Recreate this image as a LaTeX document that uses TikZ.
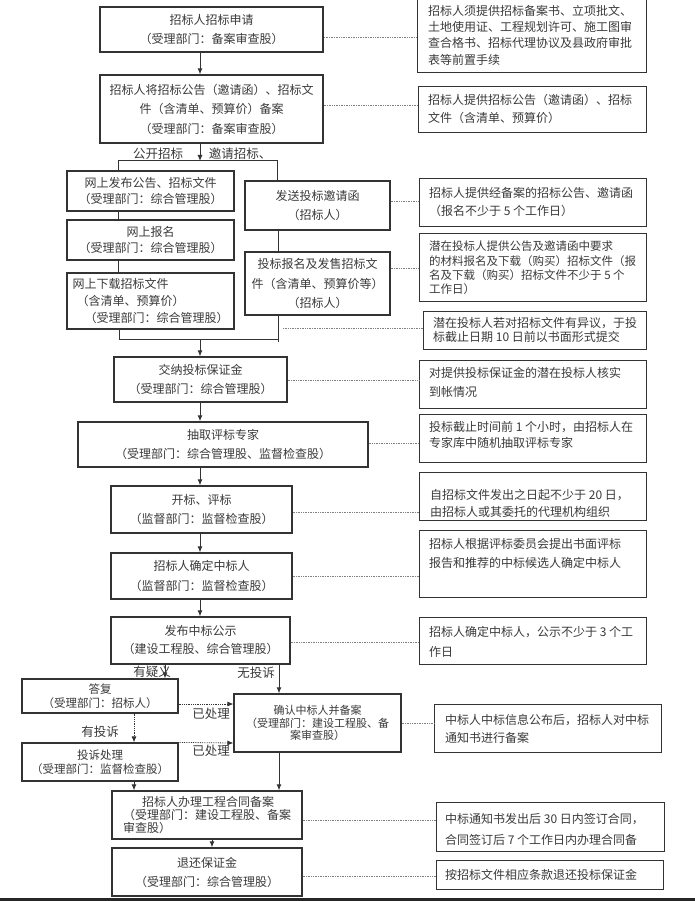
\documentclass[tikz,border=0pt]{standalone}
\usepackage{fontspec}
\setmainfont{Noto Sans CJK SC}
\usetikzlibrary{arrows.meta}
\definecolor{ink}{HTML}{333333}
\definecolor{txt}{HTML}{3A3A3A}
\definecolor{dotc}{HTML}{808080}
\newcommand{\nbox}[5]{\node[notebox, minimum width=#4pt, minimum height=#5pt] (#1) at (#2,#3) {};}
\begin{document}
\begin{tikzpicture}[x=1pt,y=-1pt,
 mainbox/.style={draw=ink, line width=1.2pt, rectangle, inner sep=0pt, align=center, text=txt, font=\fontsize{12}{19.5}\selectfont},
 notebox/.style={draw=ink, line width=1.1pt, rectangle, inner sep=0pt, anchor=north west},
 notetext/.style={anchor=north west, inner sep=0pt, align=left, text=txt},
 lbl/.style={inner sep=0pt, text=txt, font=\fontsize{12.5}{14}\selectfont},
 link/.style={draw=ink, line width=1pt},
 arr/.style={draw=ink, line width=1pt, -{Latex[length=6pt,width=5pt]}},
 dotarr/.style={draw=ink, line width=0.8pt, densely dotted, -{Latex[length=6pt,width=5pt]}},
 dotline/.style={draw=dotc, line width=0.7pt, densely dotted}]
\fill[white] (0,0) rectangle (695,901);
\useasboundingbox (0,0) rectangle (695,901);
\fill[black!85] (0,898) rectangle (695,901);

% column coordinates
\coordinate (c200) at (200,0);
\coordinate (c118) at (118,0);
\coordinate (c119) at (119,0);
\coordinate (c277) at (277,0);
\coordinate (c278) at (278,0);
\coordinate (c165) at (165,0);
\coordinate (c279) at (279,0);
\coordinate (c134) at (134,0);
\coordinate (c212) at (212,0);

% main boxes
\node[mainbox, line width=1.6pt, minimum width=223pt, minimum height=45pt] (B1) at (211.5,29.5) {招标人招标申请\\（受理部门：备案审查股）};
\node[mainbox, minimum width=223pt, minimum height=68pt] (B2) at (211.5,109) {招标人将招标公告（邀请函）、招标文\\件（含清单、预算价）备案\\（受理部门：备案审查股）};
\node[mainbox, font=\fontsize{12}{16}\selectfont, minimum width=167pt, minimum height=40pt] (B3a) at (150.5,191) {网上发布公告、招标文件\\（受理部门：综合管理股）};
\node[mainbox, font=\fontsize{12}{15.5}\selectfont, minimum width=167pt, minimum height=40pt] (B3b) at (150.5,240) {网上报名\\（受理部门：综合管理股）};
\node[mainbox, align=left, font=\fontsize{12}{17}\selectfont, minimum width=167pt, minimum height=56pt] (B3c) at (150.5,301) {网上下载招标文件\\\hspace*{4pt}（含清单、预算价）\\\hspace*{12pt}（受理部门：综合管理股）};
\node[mainbox, minimum width=145pt, minimum height=49pt] (B4a) at (317.5,205.5) {发送投标邀请函\\（招标人）};
\node[mainbox, minimum width=145pt, minimum height=63pt] (B4b) at (317.5,283.5) {投标报名及发售招标文\\件（含清单、预算价等）\\（招标人）};
\node[mainbox, minimum width=173pt, minimum height=45pt] (B5) at (200.5,379.5) {交纳投标保证金\\（受理部门：综合管理股）};
\node[mainbox, line width=1.5pt, minimum width=290pt, minimum height=45pt] (B6) at (223,444.5) {抽取评标专家\\（受理部门：综合管理股、监督检查股）};
\node[mainbox, minimum width=181pt, minimum height=47pt] (B7) at (201.5,509.5) {开标、评标\\（监督部门：监督检查股）};
\node[mainbox, minimum width=181pt, minimum height=46pt] (B8) at (201.5,576) {招标人确定中标人\\（监督部门：监督检查股）};
\node[mainbox, font=\fontsize{12}{18}\selectfont, minimum width=179pt, minimum height=47pt] (B9) at (200.5,640.5) {发布中标公示\\（建设工程股、综合管理股）};
\node[mainbox, font=\fontsize{11.5}{14}\selectfont, minimum width=156pt, minimum height=34pt] (B10) at (100,696) {答复\\（受理部门：招标人）};
\node[mainbox, font=\fontsize{11.5}{14}\selectfont, minimum width=156pt, minimum height=38pt] (B11) at (100,762) {投诉处理\\（受理部门：监督检查股）};
\node[mainbox, font=\fontsize{11}{12.5}\selectfont, minimum width=167pt, minimum height=58pt] (B12) at (317.5,723) {确认中标人并备案\\（受理部门：建设工程股、备\\案审查股）};
\node[mainbox, align=left, font=\fontsize{12}{13}\selectfont, minimum width=190pt, minimum height=48pt] (B13) at (207,815) {\hspace*{19pt}招标人办理工程合同备案\\（受理部门：建设工程股、备案\\审查股）};
\node[mainbox, font=\fontsize{12}{19}\selectfont, minimum width=190pt, minimum height=48pt] (B14) at (207,872) {退还保证金\\（受理部门：综合管理股）};

% note boxes
\nbox{N1}{417}{-3}{229}{75}
\nbox{N2}{418}{86}{228}{46}
\nbox{N3}{419}{178}{227}{48}
\nbox{N4}{419}{233}{227}{68}
\nbox{N5}{423}{311}{223}{38}
\nbox{N6}{419}{360}{227}{48}
\nbox{N7}{419}{414}{227}{48}
\nbox{N8}{419}{472}{227}{48}
\nbox{N9}{419}{530}{227}{67}
\nbox{N10}{419}{617}{227}{47}
\nbox{N11}{434}{704}{227}{48}
\nbox{N12}{436}{802}{228}{49}
\nbox{N13}{436}{860}{227}{29}

% note texts
\node[notetext, font=\fontsize{12}{16.3}\selectfont] (T1) at (428,5) {招标人须提供招标备案书、立项批文、\\土地使用证、工程规划许可、施工图审\\查合格书、招标代理协议及县政府审批\\表等前置手续};
\node[notetext, font=\fontsize{12}{18}\selectfont] (T2) at (428,94) {招标人提供招标公告（邀请函）、招标\\文件（含清单、预算价）};
\node[notetext, font=\fontsize{12}{18}\selectfont] (T3) at (429,187) {招标人提供经备案的招标公告、邀请函\\（报名不少于 5 个工作日）};
\node[notetext, font=\fontsize{11.5}{14.3}\selectfont] (T4) at (429,241) {潜在投标人提供公告及邀请函中要求\\的材料报名及下载（购买）招标文件（报\\名及下载（购买）招标文件不少于 5 个\\工作日）};
\node[notetext, font=\fontsize{12}{14}\selectfont] (T5) at (433,317) {潜在投标人若对招标文件有异议，于投\\标截止日期 10 日前以书面形式提交};
\node[notetext, font=\fontsize{12}{19}\selectfont] (T6) at (429,367) {对提供投标保证金的潜在投标人核实\\到帐情况};
\node[notetext, font=\fontsize{12}{16}\selectfont] (T7) at (429,421) {投标截止时间前 1 个小时，由招标人在\\专家库中随机抽取评标专家};
\node[notetext, font=\fontsize{12}{17}\selectfont] (T8) at (430,489) {自招标文件发出之日起不少于 20 日，\\由招标人或其委托的代理机构组织};
\node[notetext, font=\fontsize{12}{19}\selectfont] (T9) at (429,538) {招标人根据评标委员会提出书面评标\\报告和推荐的中标候选人确定中标人};
\node[notetext, font=\fontsize{12}{20}\selectfont] (T10) at (429,626) {招标人确定中标人，公示不少于 3 个工\\作日};
\node[notetext, font=\fontsize{12}{18}\selectfont] (T11) at (445,714) {中标人中标信息公布后，招标人对中标\\通知书进行备案};
\node[notetext, font=\fontsize{12}{21}\selectfont] (T12) at (445,813) {中标通知书发出后 30 日内签订合同，\\合同签订后 7 个工作日内办理合同备};
\node[notetext, font=\fontsize{12}{14}\selectfont] (T13) at (445,869) {按招标文件相应条款退还投标保证金};

% main flow arrows
\draw[arr] (B1.south -| c200) -- (B2.north -| c200);
\coordinate (br) at (200,161);
\draw[arr] (B2.south -| c200) -- (br);
\draw[link] (B3a.north -| c118) -- (118,161) -- (277,161) -- (B4a.north -| c277);
\draw[link] (B3a.south -| c118) -- (B3b.north -| c118);
\draw[link] (B3b.south -| c118) -- (B3c.north -| c118);
\coordinate (jn) at (200,339);
\draw[link] (B3c.south -| c119) -- (119,339) -- (278,339);
\draw[link] (B4a.south -| c278) -- (B4b.north -| c278);
\draw[link] (B4b.south -| c278) -- (278,342);
\draw[arr] (jn) -- (B5.north -| c200);
\draw[arr] (B5.south -| c200) -- (B6.north -| c200);
\draw[arr] (B6.south -| c200) -- (B7.north -| c200);
\draw[arr] (B7.south -| c200) -- (B8.north -| c200);
\draw[arr] (B8.south -| c200) -- (B9.north -| c200);

% lower branch
\draw[arr] (B9.south -| c165) -- (B10.north -| c165);
\draw[arr] (B9.south -| c279) -- (B12.north -| c279);
\coordinate (y704) at (0,704);
\coordinate (y743) at (0,743);
\draw[dotarr] (B10.east |- y704) -- (B12.west |- y704);
\draw[dotarr] (B10.south -| c134) -- (B11.north -| c134);
\draw[dotarr] (B11.north east) -- (B12.west |- y743);
\draw[arr] (B11.south -| c134) -- (B13.north -| c134);
\draw[arr] (B12.south -| c279) -- (B13.north -| c279);
\draw[arr] (B13.south -| c212) -- (B14.north -| c212);

% labels
\node[lbl] (L1) at (158,154) {公开招标};
\node[lbl] (L2) at (240,154) {邀请招标、};
\node[lbl] (L3) at (152,672) {有疑义};
\node[lbl] (L4) at (256,673) {无投诉};
\node[lbl] (L5) at (211,714) {已处理};
\node[lbl] (L6) at (100,732) {有投诉};
\node[lbl] (L7) at (211,751) {已处理};

% dotted leader lines
\coordinate (d1) at (0,37);
\coordinate (d2) at (0,105);
\coordinate (d3) at (0,201);
\coordinate (d4) at (0,268);
\coordinate (d5) at (283,328);
\coordinate (d6) at (0,380);
\coordinate (d7) at (0,443);
\coordinate (d8) at (0,512);
\coordinate (d9) at (0,576);
\coordinate (d10) at (0,642);
\coordinate (d11) at (0,723);
\coordinate (d12) at (0,820);
\coordinate (d13) at (0,876);
\draw[dotline] (B1.east |- d1) -- (N1.west |- d1);
\draw[dotline] (B2.east |- d2) -- (N2.west |- d2);
\draw[dotline] (B4a.east |- d3) -- (N3.west |- d3);
\draw[dotline] (B4b.east |- d4) -- (N4.west |- d4);
\draw[dotline] (d5) -- (N5.west |- d5);
\draw[dotline] (B5.east |- d6) -- (N6.west |- d6);
\draw[dotline] (B6.east |- d7) -- (N7.west |- d7);
\draw[dotline] (B7.east |- d8) -- (N8.west |- d8);
\draw[dotline] (B8.east |- d9) -- (N9.west |- d9);
\draw[dotline] (B9.east |- d10) -- (N10.west |- d10);
\draw[dotline] (B12.east |- d11) -- (N11.west |- d11);
\draw[dotline] (B13.east |- d12) -- (N12.west |- d12);
\draw[dotline] (B14.east |- d13) -- (N13.west |- d13);
\end{tikzpicture}
\end{document}
